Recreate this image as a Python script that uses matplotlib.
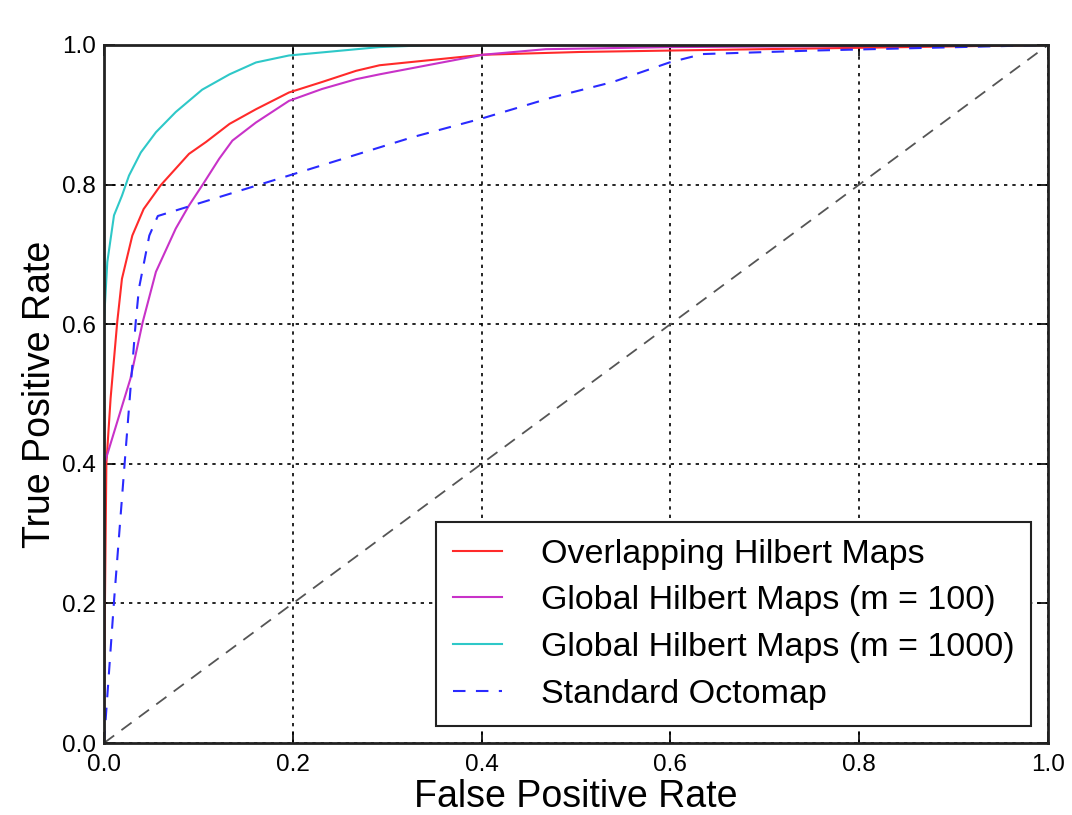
import matplotlib
matplotlib.use("Agg")
import matplotlib.pyplot as plt

plt.rcParams['font.family'] = ['Liberation Sans', 'DejaVu Sans']

# ROC curves: (false positive rate, true positive rate)
ohm_fpr = [0.0, 0.001, 0.0025, 0.007, 0.014, 0.019, 0.030, 0.042, 0.060, 0.076,
           0.090, 0.108, 0.133, 0.161, 0.196, 0.231, 0.267, 0.292, 0.401, 0.504,
           0.645, 0.80, 1.0]
ohm_tpr = [0.0, 0.20, 0.40, 0.494, 0.603, 0.665, 0.727, 0.765, 0.799, 0.823,
           0.844, 0.861, 0.887, 0.908, 0.932, 0.947, 0.963, 0.971, 0.986, 0.990,
           0.993, 0.996, 1.0]

ghm100_fpr = [0.0, 0.0, 0.028, 0.041, 0.055, 0.076, 0.090, 0.106, 0.122, 0.136,
              0.161, 0.196, 0.231, 0.267, 0.292, 0.401, 0.468, 0.60, 1.0]
ghm100_tpr = [0.0, 0.398, 0.522, 0.603, 0.675, 0.737, 0.770, 0.803, 0.837, 0.863,
              0.889, 0.920, 0.937, 0.951, 0.958, 0.986, 0.994, 0.997, 1.0]

ghm1000_fpr = [0.0, 0.0, 0.0035, 0.0106, 0.019, 0.0265, 0.039, 0.055, 0.076, 0.104,
               0.133, 0.161, 0.196, 0.2916, 0.35, 1.0]
ghm1000_tpr = [0.0, 0.604, 0.689, 0.756, 0.784, 0.813, 0.846, 0.875, 0.904, 0.936,
               0.958, 0.975, 0.985, 0.997, 1.0, 1.0]

octo_fpr = [0.0, 0.0106, 0.022, 0.0336, 0.037, 0.048, 0.057, 0.196, 0.327, 0.401,
            0.475, 0.539, 0.599, 0.634, 0.75, 1.0]
octo_tpr = [0.0, 0.203, 0.403, 0.603, 0.651, 0.727, 0.755, 0.813, 0.868, 0.895,
            0.925, 0.947, 0.975, 0.987, 0.992, 1.0]

chance = [0.0, 1.0]

labels = ["Overlapping Hilbert Maps", "Global Hilbert Maps (m = 100)",
          "Global Hilbert Maps (m = 1000)", "Standard Octomap"]
ticks = [0.0, 0.2, 0.4, 0.6, 0.8, 1.0]

fig = plt.figure(figsize=(10.72, 8.15), dpi=100)
ax = fig.add_axes([104 / 1072, 72 / 815, 944 / 1072, 698 / 815])

ax.plot(ohm_fpr, ohm_tpr, color='#ff2a2a', lw=1.5, label=labels[0])
ax.plot(ghm100_fpr, ghm100_tpr, color='#c832c8', lw=1.5, label=labels[1])
ax.plot(ghm1000_fpr, ghm1000_tpr, color='#2ec8c8', lw=1.5, label=labels[2])
ax.plot(octo_fpr, octo_tpr, color='#2a2aff', lw=1.5, ls=(0, (6, 5)), label=labels[3])
ax.plot(chance, chance, color='#555555', lw=1.3, ls=(0, (7, 5)))

ax.set_xlim(0, 1)
ax.set_ylim(0, 1)
ax.set_xticks(ticks)
ax.set_yticks(ticks)
ax.set_xticklabels([f"{t:.1f}" for t in ticks])
ax.set_yticklabels([f"{t:.1f}" for t in ticks])
ax.tick_params(direction='in', length=8, width=1.2, labelsize=17.5,
               top=True, right=True, pad=6, colors='black')
ax.tick_params(axis='x', pad=8)
for s in ax.spines.values():
    s.set_linewidth(2.0)
    s.set_color('#222222')

ax.grid(True, color='black', ls=(0, (2, 3)), lw=1.2)

ax.set_xlabel("False Positive Rate", fontsize=27, labelpad=2)
ax.set_ylabel("True Positive Rate", fontsize=27, labelpad=3)

leg = ax.legend(loc='lower right', fontsize=24.5, handlelength=1.45,
                handletextpad=1.15, labelspacing=0.46, borderpad=0.48,
                borderaxespad=0.5, fancybox=False, framealpha=1)
leg.get_frame().set_edgecolor('#222222')
leg.get_frame().set_linewidth(1.5)

fig.savefig("out.png", dpi=100)
